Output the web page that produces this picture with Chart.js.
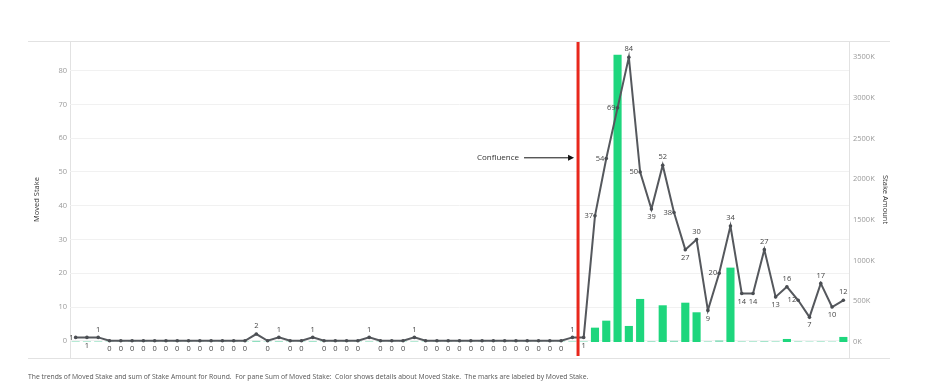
<!DOCTYPE html>
<html>
<head>
<meta charset="utf-8">
<script src="https://cdn.jsdelivr.net/npm/chart.js@4/dist/chart.umd.min.js"></script>
<style>
  html, body { margin: 0; padding: 0; background: #fff; }
  #wrap { position: relative; width: 936px; height: 392px; }
  #caption { position: absolute; left: 28px; top: 372px; font: 6.8px "Open Sans", "DejaVu Sans", sans-serif; color: #555; white-space: nowrap; }
</style>
</head>
<body>
<div id="wrap">
  <canvas id="c" width="936" height="392"></canvas>
  <div id="caption">The trends of Moved Stake and sum of Stake Amount for Round.&nbsp; For pane Sum of Moved Stake:&nbsp; Color shows details about Moved Stake.&nbsp; The marks are labeled by Moved Stake.</div>
</div>
<script>
// ---- data ----
const rounds = Array.from({length: 69}, (_, i) => String(i + 1));
const movedStake = [
  1, 1, 1, 0, 0, 0, 0, 0, 0, 0, 0, 0, 0, 0, 0, 0,
  2, 0, 1, 0, 0, 1, 0, 0, 0, 0, 1, 0, 0, 0, 1,
  0, 0, 0, 0, 0, 0, 0, 0, 0, 0, 0, 0, 0,
  1, 1,
  37, 54, 69, 84, 50, 39, 52, 38, 27, 30, 9, 20, 34, 14, 14, 27, 13, 16, 12, 7, 17, 10, 12
];
// Stake Amount in thousands (K)
const stakeAmountK = [
  8, 8, 8, 6, 6, 6, 6, 6, 6, 6, 6, 6, 6, 6, 6, 6,
  14, 6, 10, 6, 6, 10, 6, 6, 6, 6, 8, 6, 6, 6, 8,
  6, 6, 6, 6, 6, 6, 6, 6, 6, 6, 6, 6, 6,
  8, 8,
  176, 262, 3530, 197, 529, 10, 451, 15, 483, 365, 8, 20, 914, 8, 8, 10, 8, 37, 8, 6, 8, 6, 62
];
const leftTicks = [0, 10, 20, 30, 40, 50, 60, 70, 80];
const rightTicksK = [0, 500, 1000, 1500, 2000, 2500, 3000, 3500];
const confluenceAfterIndex = 44;
const confluenceLabel = "Confluence";

const FONT = '"Open Sans", "DejaVu Sans", sans-serif';

function labelAnchor(i) {
  const v = movedStake[i];
  const p = i > 0 ? movedStake[i - 1] : null;
  const n = i < movedStake.length - 1 ? movedStake[i + 1] : null;
  if (p === null) return 'left';
  if (n === null) return 'above';
  if (v >= p && v >= n && (v > p || v > n)) return 'above';
  if (v <= p && v <= n) return 'below';
  return 'left';
}

const decor = {
  id: 'decor',
  beforeDraw(chart) {
    const ctx = chart.ctx, a = chart.chartArea;
    ctx.save();
    ctx.strokeStyle = '#e2e2e2';
    ctx.lineWidth = 1;
    ctx.beginPath();
    ctx.moveTo(28, a.top + 0.5); ctx.lineTo(890, a.top + 0.5);
    ctx.moveTo(28, a.bottom + 0.5); ctx.lineTo(890, a.bottom + 0.5);
    ctx.moveTo(a.left + 0.5, a.top); ctx.lineTo(a.left + 0.5, a.bottom);
    ctx.moveTo(a.right + 0.5, a.top); ctx.lineTo(a.right + 0.5, a.bottom);
    ctx.stroke();
    ctx.restore();
  },
  afterDatasetsDraw(chart) {
    const ctx = chart.ctx, a = chart.chartArea;
    const xs = chart.scales.x, ys = chart.scales.y;
    // red confluence line
    const xr = (xs.getPixelForValue(confluenceAfterIndex) + xs.getPixelForValue(confluenceAfterIndex + 1)) / 2;
    ctx.save();
    ctx.fillStyle = '#e8271c';
    ctx.fillRect(xr - 1.5, a.top + 1, 3, a.bottom - a.top - 3);
    // annotation
    const ya = ys.getPixelForValue(54.2);
    ctx.strokeStyle = '#111';
    ctx.lineWidth = 1;
    ctx.beginPath();
    ctx.moveTo(xr - 54, ya); ctx.lineTo(xr - 8, ya);
    ctx.stroke();
    ctx.fillStyle = '#111';
    ctx.beginPath();
    ctx.moveTo(xr - 4, ya); ctx.lineTo(xr - 10, ya - 3); ctx.lineTo(xr - 10, ya + 3); ctx.closePath();
    ctx.fill();
    ctx.font = '8px ' + FONT;
    ctx.textAlign = 'right';
    ctx.textBaseline = 'middle';
    ctx.fillStyle = '#333';
    ctx.fillText(confluenceLabel, xr - 59, ya);
    // data labels
    const meta = chart.getDatasetMeta(1);
    ctx.font = '7.5px ' + FONT;
    ctx.fillStyle = '#444';
    meta.data.forEach((pt, i) => {
      const an = labelAnchor(i);
      const t = String(movedStake[i]);
      if (an === 'above') { ctx.textAlign = 'center'; ctx.fillText(t, pt.x, pt.y - 8); }
      else if (an === 'below') { ctx.textAlign = 'center'; ctx.fillText(t, pt.x, pt.y + 8); }
      else { ctx.textAlign = 'right'; ctx.fillText(t, pt.x - 2, pt.y); }
    });
    ctx.restore();
  }
};

new Chart(document.getElementById('c'), {
  data: {
    labels: rounds,
    datasets: [
      {
        type: 'bar',
        label: 'Stake Amount',
        data: stakeAmountK,
        yAxisID: 'y2',
        order: 2,
        backgroundColor: ctx => (ctx.raw < 30 ? '#8edfbf' : '#1ed67d'),
        categoryPercentage: 1,
        barPercentage: 0.72,
        borderWidth: 0
      },
      {
        type: 'line',
        label: 'Moved Stake',
        data: movedStake,
        yAxisID: 'y',
        order: 1,
        borderColor: '#55585d',
        backgroundColor: '#55585d',
        borderWidth: 2,
        pointRadius: 1.8,
        pointBackgroundColor: '#4a4d52',
        pointBorderWidth: 0,
        tension: 0
      }
    ]
  },
  options: {
    responsive: false,
    animation: false,
    layout: { padding: { left: 28, right: 46, top: 41, bottom: 34 } },
    plugins: { legend: { display: false }, tooltip: { enabled: false } },
    scales: {
      x: { type: 'category', display: false, offset: true, grid: { display: false } },
      y: {
        position: 'left',
        min: -5.1, max: 88.8,
        afterBuildTicks: s => { s.ticks = leftTicks.map(v => ({ value: v })); },
        afterFit: s => { s.width = 42; },
        grid: { color: '#f1f1f1', drawTicks: false },
        border: { display: false },
        ticks: { color: '#9a9a9a', font: { size: 7.5, family: FONT }, padding: 3 },
        title: { display: true, text: 'Moved Stake', color: '#333', font: { size: 7.5, family: FONT }, padding: { top: 4, bottom: 6 } }
      },
      y2: {
        position: 'right',
        min: -197, max: 3700,
        afterBuildTicks: s => { s.ticks = rightTicksK.map(v => ({ value: v })); },
        afterFit: s => { s.width = 41; },
        grid: { display: false, drawTicks: false },
        border: { display: false },
        ticks: { color: '#9a9a9a', font: { size: 7.5, family: FONT }, padding: 4, callback: v => v + 'K' },
        title: { display: true, text: 'Stake Amount', color: '#333', font: { size: 7.5, family: FONT }, padding: { top: 0, bottom: 4 } }
      }
    }
  },
  plugins: [decor]
});
</script>
</body>
</html>
